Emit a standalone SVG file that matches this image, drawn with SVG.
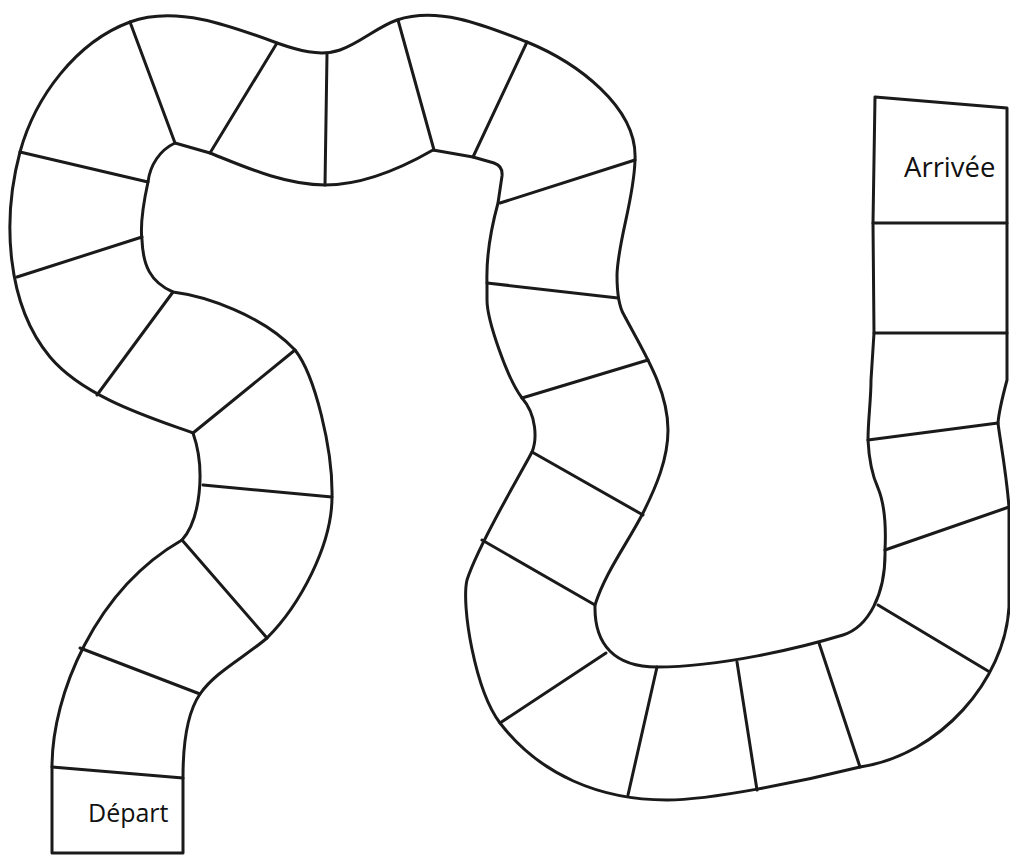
<svg xmlns="http://www.w3.org/2000/svg" width="1010" height="856" viewBox="0 0 1010 856">
<style>
.ln{fill:none;stroke:#1a1a1a;stroke-width:3;stroke-linejoin:round;stroke-linecap:round}
.lbl{font-family:"Open Sans","Liberation Sans",sans-serif;fill:#111}
</style>
<rect width="1010" height="856" fill="#ffffff"/>
<g id="track-outline">
<path class="ln" d="M52,853 L52,767 C52,695 95,590 182,540 C200,520 206,470 193,433 C155,419 85,398.5 50,357 C6,304 2,219 20,152 C35,97 76,42 130,22 C176,5 231,26 277,43 C297,50 320,57 340,50 C360,43 377,27 397,20 C439,6 486,26 527,42 C576,62 638,107 635,160 C634,200 618,240 617,275 C617,290 618,305 624,315 C643,351 668,389 668,430 C668,459 656,487 643,513 C627,544 605.5,572 595,605 C594,645 615,667 657,667 C720,667 800,648 843,635 C868,627 886,595 885,550 C886,530 885,505 878,488 C872,475 869,460 868,440 C868,420 871,400 871,380 L874,333 L873,223 L875,97 L1007,108 L1007,380 C1003,395 999,410 998,423 C1000,440 1006,470 1009,507 L1009,607 C1005,680 940,755 860,767 C800,782 710,800 667,800 C600,800 540,775 500,723 C475,690 461,605 467,580 C478,545 520,475 532,452 C537,440 537,415 522,398 C507,378 487,320 487,300 L487,283 C486,255 492,225 498,203 L502,176 Q503,166 494,163 L473,157 L433,150 C400,169 363,185 325,185 C285,185 245,167 210,153 L175,143 C160,150 150,165 148,182 C143,205 140,225 142,240 C143,265 150,282 173,292 C205,296 262,315 295,350 C315,375 333,450 332,497 C332,545 300,605 267,638 C245,657 215,672 200,694 C189,710 183,740 183,777 L183,853 Z"/>
</g>
<g id="square-dividers" class="ln">
<line x1="52" y1="767" x2="183" y2="778"/>
<line x1="80" y1="648" x2="200" y2="694"/>
<line x1="182" y1="540" x2="267" y2="638"/>
<line x1="203" y1="485" x2="332" y2="497"/>
<line x1="193" y1="433" x2="295" y2="350"/>
<line x1="97" y1="395" x2="173" y2="292"/>
<line x1="17" y1="277" x2="142" y2="237"/>
<line x1="20" y1="152" x2="148" y2="182"/>
<line x1="130" y1="22" x2="175" y2="143"/>
<line x1="277" y1="43" x2="210" y2="153"/>
<line x1="327" y1="54" x2="325" y2="185"/>
<line x1="398" y1="20" x2="434" y2="150"/>
<line x1="527" y1="42" x2="473" y2="157"/>
<line x1="635" y1="160" x2="500" y2="203"/>
<line x1="618" y1="298" x2="487" y2="283"/>
<line x1="648" y1="360" x2="522" y2="398"/>
<line x1="643" y1="515" x2="532" y2="452"/>
<line x1="482" y1="540" x2="595" y2="605"/>
<line x1="606" y1="653" x2="500" y2="723"/>
<line x1="657" y1="667" x2="628" y2="795"/>
<line x1="737" y1="662" x2="757" y2="790"/>
<line x1="819" y1="643" x2="860" y2="767"/>
<line x1="878" y1="605" x2="988" y2="671"/>
<line x1="885" y1="550" x2="1009" y2="507"/>
<line x1="868" y1="440" x2="998" y2="423"/>
<line x1="874" y1="333" x2="1007" y2="333"/>
<line x1="873" y1="223" x2="1007" y2="223"/>
</g>
<g id="labels">
<text class="lbl" x="88" y="822" font-size="25">Départ</text>
<text class="lbl" x="904" y="177" font-size="27.5">Arrivée</text>
</g>
</svg>
